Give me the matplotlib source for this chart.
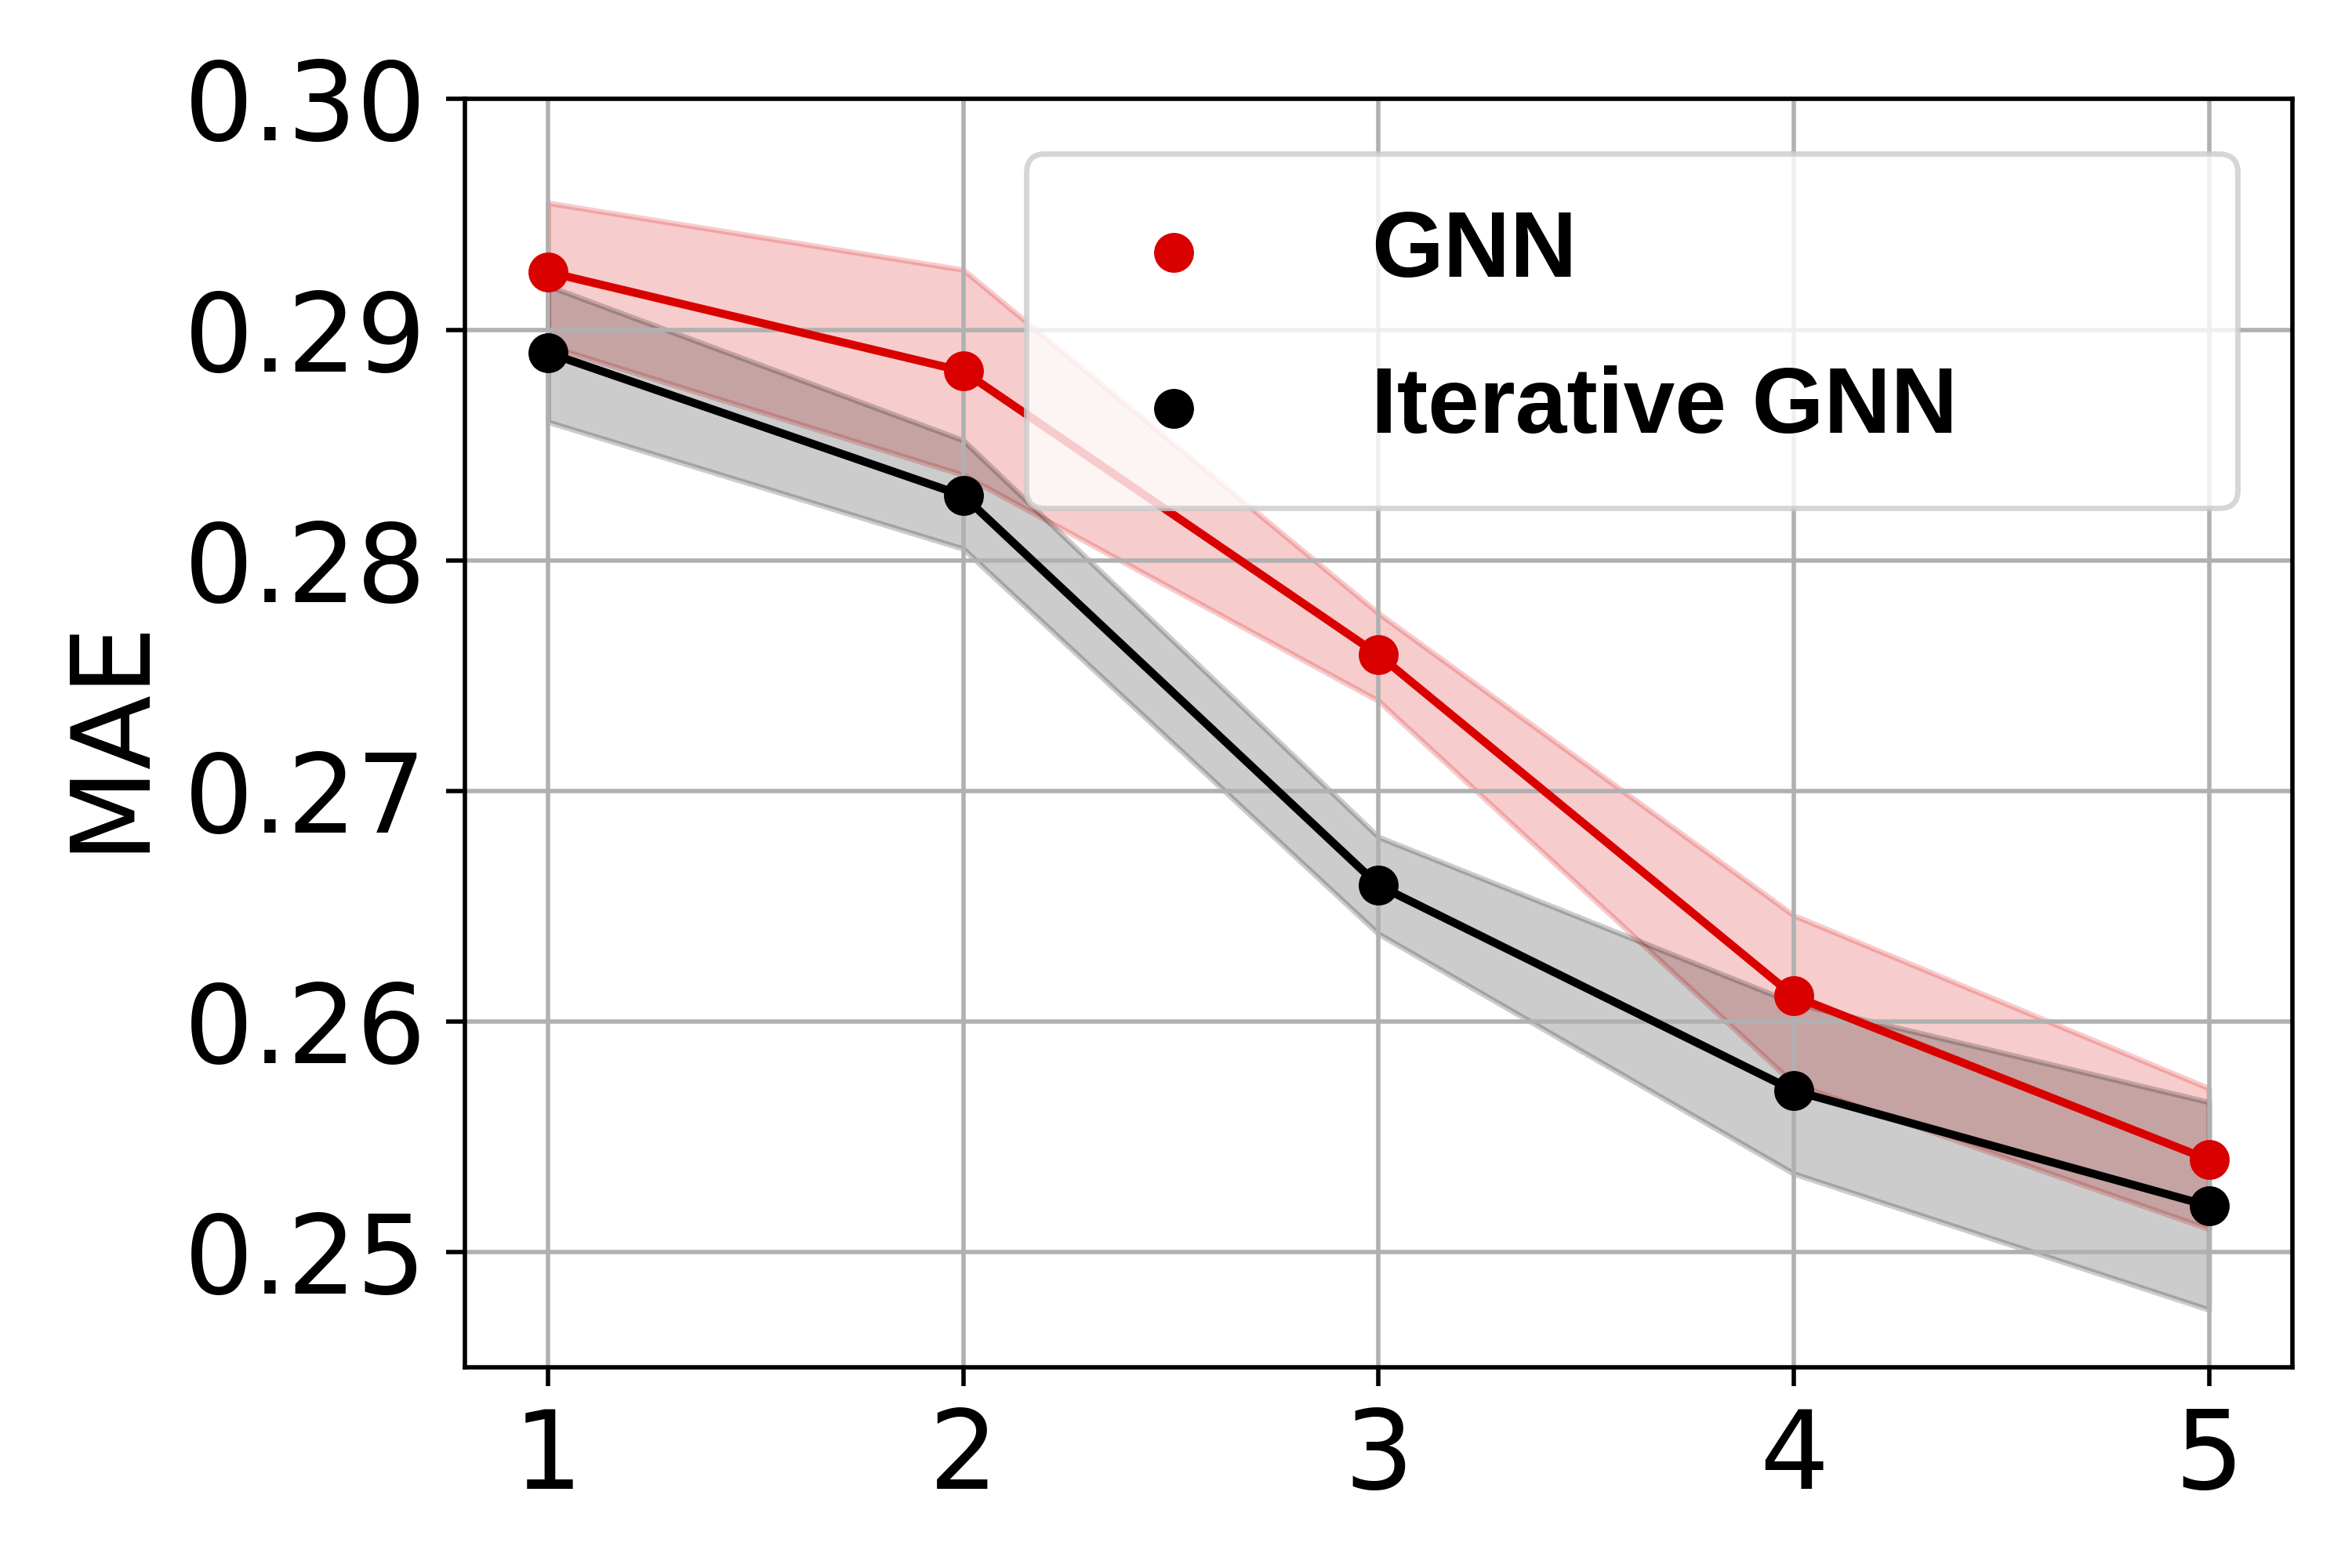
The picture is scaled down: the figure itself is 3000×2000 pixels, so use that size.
import numpy as np
import matplotlib.pyplot as plt

# iterations on the x axis
steps = [1, 2, 3, 4, 5]

# GNN mean and band
gnn_mean = [0.2925, 0.2882, 0.2759, 0.2611, 0.2540]
gnn_upper = [0.2955, 0.2926, 0.2777, 0.2646, 0.2571]
gnn_lower = [0.2893, 0.2837, 0.2739, 0.2573, 0.2510]

# Iterative GNN mean and band
it_mean = [0.2890, 0.2828, 0.2659, 0.2570, 0.2520]
it_upper = [0.2919, 0.2852, 0.2680, 0.2608, 0.2565]
it_lower = [0.2860, 0.2805, 0.2638, 0.2534, 0.2475]

red = '#d90000'

fig, ax = plt.subplots(figsize=(6, 4), dpi=500)

ax.fill_between(steps, gnn_lower, gnn_upper, color=red, alpha=0.2)
ax.fill_between(steps, it_lower, it_upper, color='black', alpha=0.2)
ax.plot(steps, gnn_mean, color=red, lw=1.5)
ax.plot(steps, it_mean, color='black', lw=1.5)
ax.scatter(steps, gnn_mean, color=red, s=40, zorder=3, label='GNN')
ax.scatter(steps, it_mean, color='black', s=40, zorder=3, label='Iterative GNN')

ax.set_ylim(0.245, 0.30)
ax.set_xticks(steps)
ax.set_yticks([0.25, 0.26, 0.27, 0.28, 0.29, 0.30])
ax.tick_params(labelsize=20)
ax.set_ylabel('MAE', fontsize=20)
ax.grid(True)

leg = ax.legend(loc='upper left', bbox_to_anchor=(0.307, 0.957, 0.663, 0.0),
                mode='expand', borderaxespad=0, borderpad=0.6, labelspacing=0.75,
                handletextpad=1.13,
                prop={'family': 'Liberation Sans', 'weight': 'bold', 'size': 17})

plt.subplots_adjust(left=0.1977, right=0.9745, top=0.9368, bottom=0.128)
plt.savefig('out.png')
